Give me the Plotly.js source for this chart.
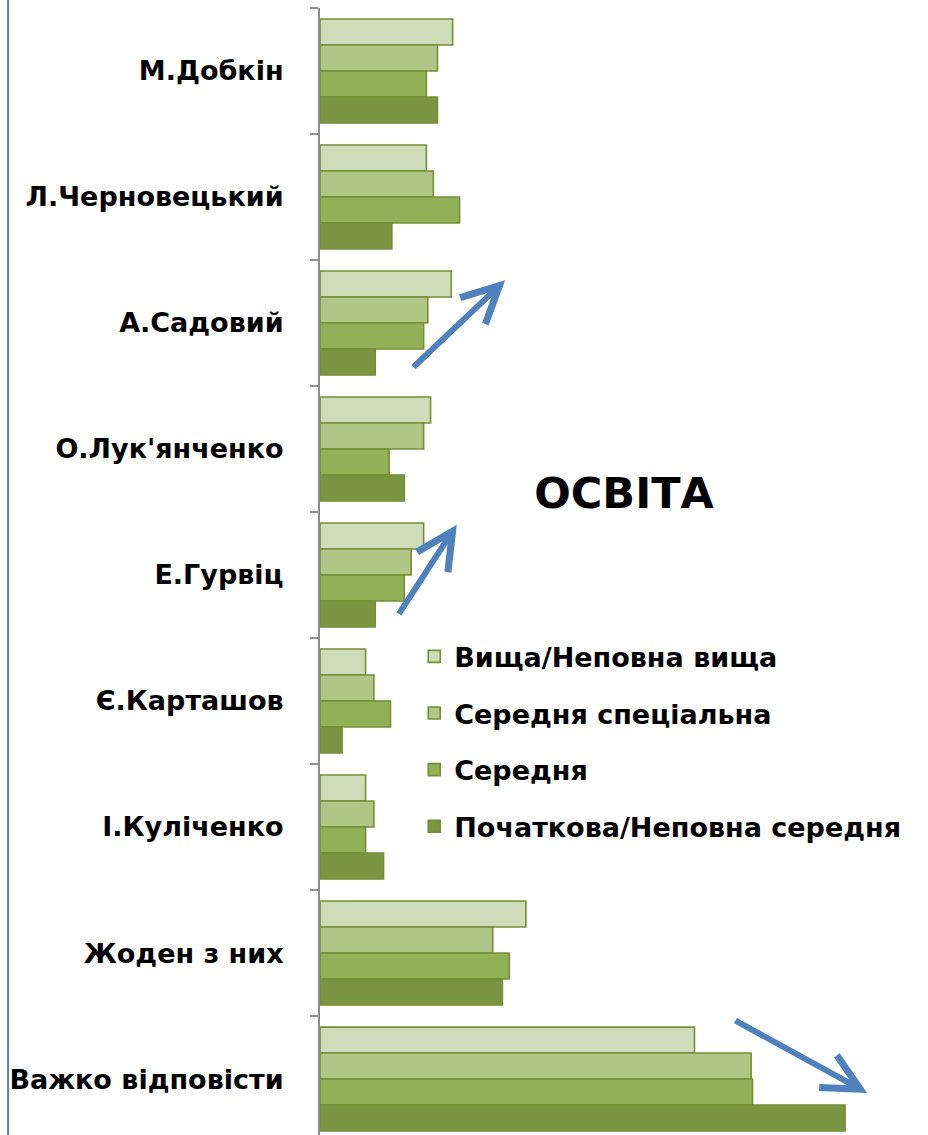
<!DOCTYPE html>
<html>
<head>
<meta charset="utf-8">
<script src="https://cdn.plot.ly/plotly-3.0.1.min.js"></script>
<style>
  body { margin: 0; background: #fff; }
  #chart { width: 928px; height: 1135px; }
</style>
</head>
<body>
<div id="chart"></div>
<script>
// categories, top to bottom
var candidates = ["М.Добкін", "Л.Черновецький", "А.Садовий", "О.Лук'янченко",
  "Е.Гурвіц", "Є.Карташов", "І.Куліченко", "Жоден з них", "Важко відповісти"];

var seriesNames = ["Вища/Неповна вища", "Середня спеціальна", "Середня",
  "Початкова/Неповна середня"];

// values (no axis scale shown, relative units)
var higher    = [9.6, 7.7, 9.5, 8.0, 7.5, 3.3, 3.3, 14.9, 27.1];
var specSec   = [8.5, 8.2, 7.8, 7.5, 6.6, 3.9, 3.9, 12.5, 31.2];
var secondary = [7.7, 10.1, 7.5, 5.0, 6.1, 5.1, 3.3, 13.7, 31.3];
var primary   = [8.5, 5.2, 4.0, 6.1, 4.0, 1.6, 4.6, 13.2, 38.0];

var fills = ["#cfdcba", "#afc686", "#92b055", "#7a9442"];
var edge = "#739035";

var values = [higher, specSec, secondary, primary];
var traces = [];
for (var i = 0; i < values.length; i++) {
  traces.push({
    type: "bar",
    orientation: "h",
    name: seriesNames[i],
    legendgroup: "g" + i,
    x: values[i],
    y: candidates,
    marker: { color: fills[i], line: { color: edge, width: 1.6 } },
    hoverinfo: "x"
  });
}

var blue = "#4f81bd";
function arrow(x, y, ax, ay) {
  return {
    x: x, y: y, ax: ax, ay: ay,
    xref: "x", yref: "y", axref: "x", ayref: "y",
    text: "", showarrow: true,
    arrowhead: 5, arrowsize: 1.2, arrowwidth: 6, arrowcolor: blue
  };
}

var layout = {
  width: 928,
  height: 1135,
  margin: { l: 320, r: 0, t: 8, b: 0 },
  paper_bgcolor: "#fff",
  plot_bgcolor: "#fff",
  barmode: "group",
  bargap: 0.175,
  bargroupgap: 0,
  showlegend: true,
  font: { family: "DejaVu Sans", color: "#000" },
  title: {
    text: "<b>ОСВІТА</b>",
    font: { family: "DejaVu Sans", size: 43, color: "#000" },
    xref: "paper", yref: "paper",
    x: 0.5, y: 0.57, xanchor: "center", yanchor: "middle"
  },
  legend: {
    x: 0.155, y: 0.446, xanchor: "left", yanchor: "top",
    traceorder: "grouped",
    tracegroupgap: 18.5,
    bgcolor: "rgba(0,0,0,0)",
    font: { family: "DejaVu Sans", size: 27, color: "#000", weight: "bold" }
  },
  xaxis: {
    range: [0, 44],
    showgrid: false, zeroline: false, showline: false,
    showticklabels: false, ticks: ""
  },
  yaxis: {
    type: "category",
    categoryorder: "array",
    categoryarray: candidates,
    range: [8.444, -0.5],
    tickson: "boundaries",
    tickfont: { family: "DejaVu Sans", size: 27, color: "#000", weight: "bold" },
    showgrid: false, zeroline: false,
    showline: true, linecolor: "#8c8c8c", linewidth: 2,
    ticks: "outside", ticklen: 8, tickcolor: "#8c8c8c", tickwidth: 2,
    ticklabelstandoff: 29
  },
  shapes: [{
    type: "line", xref: "paper", yref: "paper",
    x0: -0.513, x1: -0.513, y0: -0.01, y1: 1.01,
    line: { color: blue, width: 2 }
  }],
  annotations: [
    arrow(13.4, 1.66, 6.66, 2.36),
    arrow(9.9, 3.60, 5.64, 4.32),
    arrow(39.6, 8.11, 29.96, 7.53)
  ]
};

Plotly.newPlot("chart", traces, layout, { displayModeBar: false, staticPlot: true });
</script>
</body>
</html>
